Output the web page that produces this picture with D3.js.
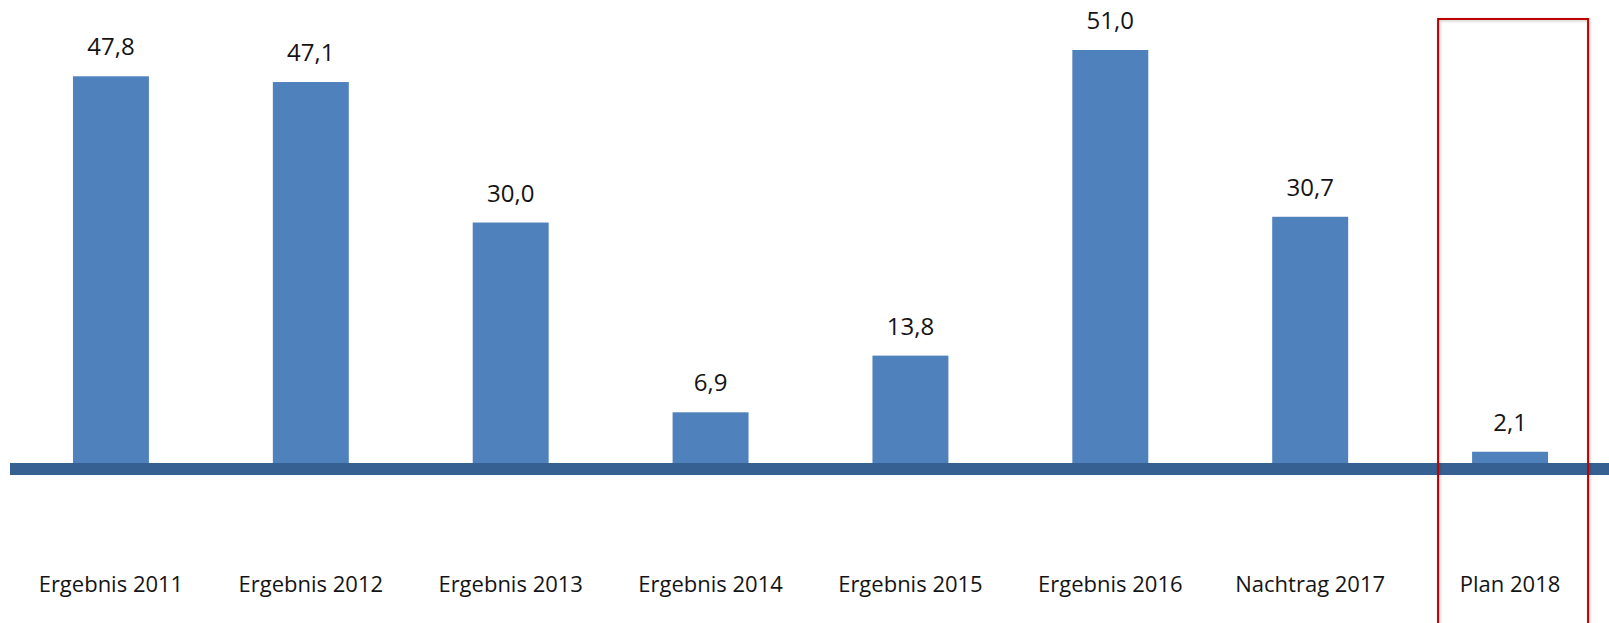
<!DOCTYPE html>
<html>
<head>
<meta charset="utf-8">
<script src="https://cdn.jsdelivr.net/npm/d3@7"></script>
<style>
  html, body { margin: 0; padding: 0; background: #ffffff; }
  svg { display: block; }
</style>
</head>
<body>
<svg id="chart" width="1609" height="623"></svg>
<script>
const categories = ["Ergebnis 2011", "Ergebnis 2012", "Ergebnis 2013", "Ergebnis 2014", "Ergebnis 2015", "Ergebnis 2016", "Nachtrag 2017", "Plan 2018"];
const values = [47.8, 47.1, 30.0, 6.9, 13.8, 51.0, 30.7, 2.1];
const valueLabels = ["47,8", "47,1", "30,0", "6,9", "13,8", "51,0", "30,7", "2,1"];
const highlighted = ["Plan 2018"];

const data = categories.map((c, i) => ({ cat: c, value: values[i], label: valueLabels[i] }));

const svg = d3.select("#chart");
const W = 1609, H = 623;
const FONT = "'Open Sans', 'Noto Sans', sans-serif";

const x = d3.scaleBand()
  .domain(categories)
  .range([11, 1610])
  .paddingInner(0.62)
  .paddingOuter(0.31);

const y = d3.scaleLinear()
  .domain([0, 51])
  .range([469, 50]);

// drop shadow for the highlight box
const defs = svg.append("defs");
const f = defs.append("filter").attr("id", "shadow").attr("x", "-10%").attr("y", "-10%").attr("width", "120%").attr("height", "120%");
f.append("feDropShadow").attr("dx", 1).attr("dy", 1).attr("stdDeviation", 1.5).attr("flood-color", "#000").attr("flood-opacity", 0.25);

// bars
svg.append("g").selectAll("rect")
  .data(data)
  .join("rect")
  .attr("x", d => x(d.cat))
  .attr("y", d => y(d.value))
  .attr("width", x.bandwidth())
  .attr("height", d => y(0) - y(d.value))
  .attr("fill", "#4f81bd");

// axis line (thick baseline)
const xAxis = d3.axisBottom(x).tickSize(0).tickPadding(0).tickFormat("");
const axisG = svg.append("g").attr("transform", `translate(0,${y(0)})`).call(xAxis);
axisG.select(".domain").remove();
axisG.append("line")
  .attr("x1", 10).attr("x2", W)
  .attr("y1", 0).attr("y2", 0)
  .attr("stroke", "#376092")
  .attr("stroke-width", 12);

// category labels
svg.append("g").selectAll("text")
  .data(categories)
  .join("text")
  .attr("x", d => x(d) + x.bandwidth() / 2)
  .attr("y", 592)
  .attr("text-anchor", "middle")
  .attr("font-family", FONT)
  .attr("font-size", 22)
  .attr("fill", "#141414")
  .text(d => d);

// value labels
svg.append("g").selectAll("text")
  .data(data)
  .join("text")
  .attr("x", d => x(d.cat) + x.bandwidth() / 2)
  .attr("y", d => y(d.value) - 21)
  .attr("text-anchor", "middle")
  .attr("font-family", FONT)
  .attr("font-size", 24)
  .attr("fill", "#141414")
  .text(d => d.label);

// highlight box
svg.append("g").selectAll("rect")
  .data(highlighted)
  .join("rect")
  .attr("x", d => x(d) + x.bandwidth() / 2 - 72)
  .attr("y", 19)
  .attr("width", 150)
  .attr("height", 620)
  .attr("fill", "none")
  .attr("stroke", "#c00000")
  .attr("stroke-width", 2)
  .attr("filter", "url(#shadow)");
</script>
</body>
</html>
